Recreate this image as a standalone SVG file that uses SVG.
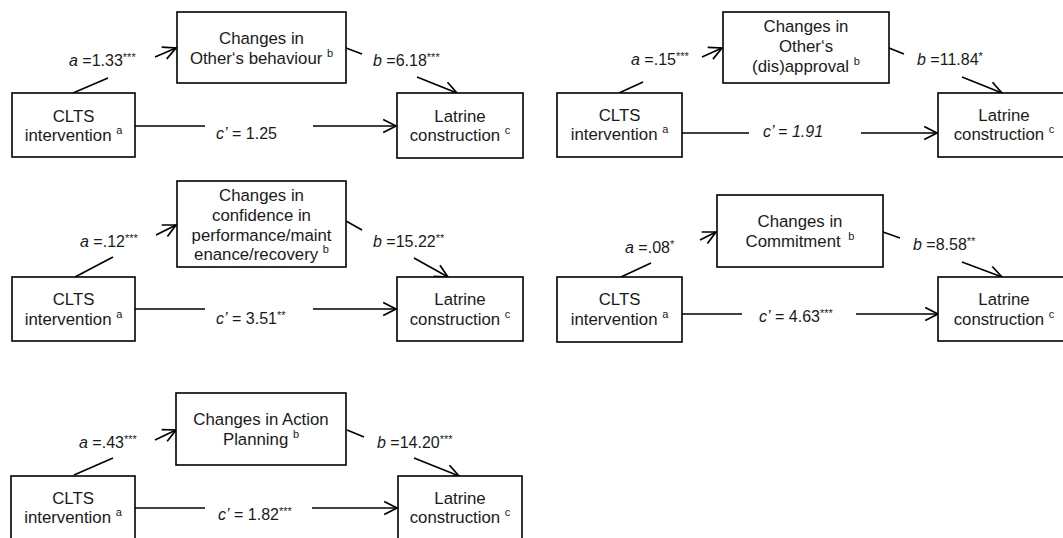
<svg xmlns="http://www.w3.org/2000/svg" width="1063" height="538" viewBox="0 0 1063 538">
<style>
.box{fill:#fff;stroke:#000;stroke-width:1.6}
.t{font-family:"Liberation Sans",Arial,sans-serif;font-size:16.8px;fill:#1a1a1a;text-anchor:middle}
.l{font-family:"Liberation Sans",Arial,sans-serif;font-size:16px;fill:#1a1a1a}
.sup{font-size:11px}
.i{font-style:italic}
.ln{stroke:#000;stroke-width:1.6;fill:none}
.ar{marker-end:url(#ah)}
</style>
<defs>
<marker id="ah" markerUnits="userSpaceOnUse" markerWidth="16" markerHeight="16" refX="12" refY="6.5" orient="auto" viewBox="-1 -1 15 15">
<path d="M0,0.5 L12,6.5 L0,12.5" fill="none" stroke="#000" stroke-width="1.6"/>
</marker>
</defs>
<rect width="1063" height="538" fill="#fff"/>

<g id="connectors">
<!-- panel 1 -->
<line class="ln" x1="73" y1="93" x2="108" y2="78"/>
<line class="ln ar" x1="155" y1="57" x2="176" y2="48"/>
<line class="ln" x1="346" y1="48" x2="362" y2="54"/>
<line class="ln ar" x1="417" y1="77" x2="457" y2="93"/>
<line class="ln" x1="135" y1="126" x2="205" y2="126"/>
<line class="ln ar" x1="313" y1="126" x2="396" y2="126"/>
<!-- panel 2 -->
<line class="ln" x1="619" y1="93" x2="643" y2="82"/>
<line class="ln ar" x1="702" y1="57" x2="722" y2="48"/>
<line class="ln" x1="889" y1="48" x2="904" y2="54"/>
<line class="ln ar" x1="962" y1="77" x2="1002" y2="93"/>
<line class="ln" x1="682" y1="133" x2="749" y2="133"/>
<line class="ln ar" x1="861" y1="133" x2="937" y2="133"/>
<!-- panel 3 -->
<line class="ln" x1="75" y1="277" x2="113" y2="257"/>
<line class="ln ar" x1="156" y1="235" x2="176" y2="225"/>
<line class="ln" x1="346" y1="221" x2="362" y2="230"/>
<line class="ln ar" x1="414" y1="258" x2="448" y2="277"/>
<line class="ln" x1="135" y1="309" x2="205" y2="309"/>
<line class="ln ar" x1="313" y1="309" x2="396" y2="309"/>
<!-- panel 4 -->
<line class="ln" x1="621" y1="277" x2="651" y2="263"/>
<line class="ln ar" x1="700" y1="240" x2="716" y2="232"/>
<line class="ln" x1="883" y1="232" x2="900" y2="238"/>
<line class="ln ar" x1="962" y1="262" x2="1002" y2="277"/>
<line class="ln" x1="682" y1="314" x2="742" y2="314"/>
<line class="ln ar" x1="856" y1="314" x2="938" y2="314"/>
<!-- panel 5 -->
<line class="ln" x1="74" y1="475" x2="113" y2="458"/>
<line class="ln ar" x1="155" y1="440" x2="176" y2="430"/>
<line class="ln" x1="347" y1="430" x2="364" y2="437"/>
<line class="ln ar" x1="414" y1="458" x2="459" y2="476"/>
<line class="ln" x1="135" y1="508" x2="205" y2="508"/>
<line class="ln ar" x1="312" y1="508" x2="397" y2="508"/>
</g>

<g id="labels">
<text class="l" x="69" y="66"><tspan class="i">a</tspan> =1.33<tspan class="sup" dy="-5">***</tspan></text>
<text class="l" x="373" y="66"><tspan class="i">b</tspan> =6.18<tspan class="sup" dy="-5">***</tspan></text>
<text class="l" x="216" y="139"><tspan class="i">c’</tspan> = 1.25</text>

<text class="l" x="631" y="65"><tspan class="i">a</tspan> =.15<tspan class="sup" dy="-5">***</tspan></text>
<text class="l" x="917" y="65"><tspan class="i">b</tspan> =11.84<tspan class="sup" dy="-5">*</tspan></text>
<text class="l i" x="763" y="137">c’ = 1.91</text>

<text class="l" x="80" y="247"><tspan class="i">a</tspan> =.12<tspan class="sup" dy="-5">***</tspan></text>
<text class="l" x="373" y="247"><tspan class="i">b</tspan> =15.22<tspan class="sup" dy="-5">**</tspan></text>
<text class="l" x="216" y="324"><tspan class="i">c’</tspan> = 3.51<tspan class="sup" dy="-5">**</tspan></text>

<text class="l" x="625" y="253"><tspan class="i">a</tspan> =.08<tspan class="sup" dy="-5">*</tspan></text>
<text class="l" x="913" y="250"><tspan class="i">b</tspan> =8.58<tspan class="sup" dy="-5">**</tspan></text>
<text class="l" x="759" y="322"><tspan class="i">c’</tspan> = 4.63<tspan class="sup" dy="-5">***</tspan></text>

<text class="l" x="79" y="448"><tspan class="i">a</tspan> =.43<tspan class="sup" dy="-5">***</tspan></text>
<text class="l" x="377" y="448"><tspan class="i">b</tspan> =14.20<tspan class="sup" dy="-5">***</tspan></text>
<text class="l" x="218" y="520"><tspan class="i">c’</tspan> = 1.82<tspan class="sup" dy="-5">***</tspan></text>
</g>

<!-- Panel 1 -->
<g id="p1-clts">
<rect class="box" x="12" y="93" width="123" height="64"/>
<text class="t" x="73.5" y="122">CLTS</text>
<text class="t" x="73.5" y="141">intervention <tspan class="sup" dy="-7">a</tspan></text>
</g>
<g id="p1-mediator">
<rect class="box" x="177" y="12" width="169" height="71"/>
<text class="t" x="261.5" y="44">Changes in</text>
<text class="t" x="261.5" y="64">Other‘s behaviour <tspan class="sup" dy="-7">b</tspan></text>
</g>
<g id="p1-latrine">
<rect class="box" x="397" y="93" width="126" height="65"/>
<text class="t" x="460" y="122">Latrine</text>
<text class="t" x="460" y="141">construction <tspan class="sup" dy="-7">c</tspan></text>
</g>

<!-- Panel 2 -->
<g id="p2-clts">
<rect class="box" x="557" y="93" width="125" height="64"/>
<text class="t" x="619.5" y="121">CLTS</text>
<text class="t" x="619.5" y="140">intervention <tspan class="sup" dy="-7">a</tspan></text>
</g>
<g id="p2-mediator">
<rect class="box" x="723" y="12" width="166" height="71"/>
<text class="t" x="806" y="32">Changes in</text>
<text class="t" x="806" y="52">Other‘s</text>
<text class="t" x="806" y="72">(dis)approval <tspan class="sup" dy="-7">b</tspan></text>
</g>
<g id="p2-latrine">
<rect class="box" x="938" y="93" width="130" height="64"/>
<text class="t" x="1004" y="121">Latrine</text>
<text class="t" x="1004" y="140">construction <tspan class="sup" dy="-7">c</tspan></text>
</g>

<!-- Panel 3 -->
<g id="p3-clts">
<rect class="box" x="12" y="277" width="123" height="64"/>
<text class="t" x="73.5" y="305">CLTS</text>
<text class="t" x="73.5" y="325">intervention <tspan class="sup" dy="-7">a</tspan></text>
</g>
<g id="p3-mediator">
<rect class="box" x="177" y="181" width="169" height="86"/>
<text class="t" x="261.5" y="201">Changes in</text>
<text class="t" x="261.5" y="221">confidence in</text>
<text class="t" x="261.5" y="241">performance/maint</text>
<text class="t" x="261.5" y="260">enance/recovery <tspan class="sup" dy="-7">b</tspan></text>
</g>
<g id="p3-latrine">
<rect class="box" x="397" y="277" width="126" height="64"/>
<text class="t" x="460" y="305">Latrine</text>
<text class="t" x="460" y="325">construction <tspan class="sup" dy="-7">c</tspan></text>
</g>

<!-- Panel 4 -->
<g id="p4-clts">
<rect class="box" x="557" y="277" width="125" height="65"/>
<text class="t" x="619.5" y="305">CLTS</text>
<text class="t" x="619.5" y="325">intervention <tspan class="sup" dy="-7">a</tspan></text>
</g>
<g id="p4-mediator">
<rect class="box" x="717" y="195" width="166" height="72"/>
<text class="t" x="800" y="227">Changes in</text>
<text class="t" x="800" y="247">Commitment <tspan class="sup" dx="3" dy="-7">b</tspan></text>
</g>
<g id="p4-latrine">
<rect class="box" x="938" y="277" width="130" height="64"/>
<text class="t" x="1004" y="305">Latrine</text>
<text class="t" x="1004" y="325">construction <tspan class="sup" dy="-7">c</tspan></text>
</g>

<!-- Panel 5 -->
<g id="p5-clts">
<rect class="box" x="11" y="476" width="124" height="70"/>
<text class="t" x="73" y="504">CLTS</text>
<text class="t" x="73" y="523">intervention <tspan class="sup" dy="-7">a</tspan></text>
</g>
<g id="p5-mediator">
<rect class="box" x="176" y="393" width="170" height="72"/>
<text class="t" x="261" y="425">Changes in Action</text>
<text class="t" x="261" y="445">Planning <tspan class="sup" dy="-7">b</tspan></text>
</g>
<g id="p5-latrine">
<rect class="box" x="398" y="476" width="124" height="70"/>
<text class="t" x="460" y="504">Latrine</text>
<text class="t" x="460" y="523">construction <tspan class="sup" dy="-7">c</tspan></text>
</g>
</svg>
